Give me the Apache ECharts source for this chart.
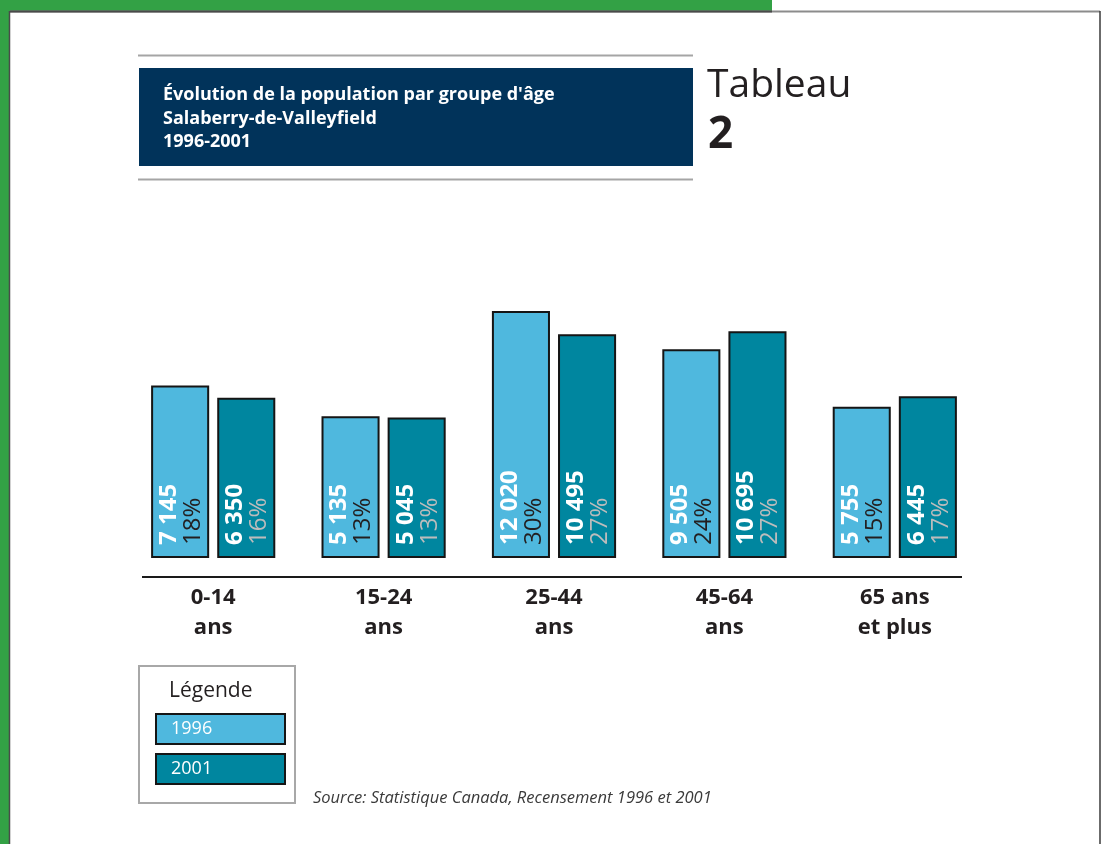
<!DOCTYPE html>
<html lang="fr">
<head>
<meta charset="utf-8">
<title>Évolution de la population par groupe d'âge – Salaberry-de-Valleyfield 1996-2001</title>
<script src="https://cdn.jsdelivr.net/npm/echarts@6/dist/echarts.min.js"></script>
<style>
  html, body { margin: 0; padding: 0; background: #ffffff; }
  #chart { width: 1101px; height: 844px; }
</style>
</head>
<body>
<div id="chart"></div>
<script>
// Groupes d'âge (axe des catégories)
const categories = ['0-14\nans', '15-24\nans', '25-44\nans', '45-64\nans', '65 ans\net plus'];
// Années du recensement
const years = ['1996', '2001'];
// Population par groupe d'âge
const pop1996 = [7145, 5135, 12020, 9505, 5755];
const pop2001 = [6350, 5045, 10495, 10695, 6445];
// Part de la population totale (%)
const pct1996 = [18, 13, 30, 24, 15];
const pct2001 = [16, 13, 27, 27, 17];

const FONT = '"Open Sans", "Noto Sans", sans-serif';
const INK = '#231f20';
const barColors = ['#4fb8de', '#00869f'];
const pctColors = [INK, '#bcbcbc'];

function fmt(n) {
  return String(n).replace(/\B(?=(\d{3})+(?!\d))/g, ' ');
}

function makeData(values, pcts) {
  return values.map((v, i) => [i, v, pcts[i]]);
}

// Barres dessinées depuis le bas de la grille jusqu'à la valeur, avec
// l'effectif et le pourcentage écrits verticalement à l'intérieur.
function renderBar(params, api) {
  const s = params.seriesIndex;
  const i = api.value(0);
  const v = api.value(1);
  const p = api.value(2);
  const cs = params.coordSys;
  const base = cs.y + cs.height;
  const top = api.coord([i, v]);
  const band = api.size([1, 0])[0];
  const w = band * 0.329;
  const gap = band * 0.059;
  const cx = top[0] + (s === 0 ? -1 : 1) * (w + gap) / 2;
  return {
    type: 'group',
    children: [
      {
        type: 'rect',
        shape: { x: cx - w / 2, y: top[1], width: w, height: base - top[1] },
        style: { fill: barColors[s], stroke: '#151515', lineWidth: 2 }
      },
      {
        type: 'text',
        x: cx + 1,
        y: base - 12,
        rotation: Math.PI / 2,
        style: {
          text: '{v|' + fmt(v) + '}\n{p|' + p + '%}',
          align: 'left',
          verticalAlign: 'middle',
          rich: {
            v: { fontFamily: FONT, fontWeight: 'bold', fontSize: 24, lineHeight: 24, fill: '#ffffff' },
            p: { fontFamily: FONT, fontWeight: 'normal', fontSize: 24, lineHeight: 24, fill: pctColors[s] }
          }
        }
      }
    ]
  };
}

const chart = echarts.init(document.getElementById('chart'), null, { renderer: 'canvas' });

chart.setOption({
  backgroundColor: '#ffffff',
  animation: false,
  title: [
    {
      text: "Évolution de la population par groupe d'âge\nSalaberry-de-Valleyfield\n1996-2001",
      left: 163, top: 83.5, padding: 0,
      textStyle: { color: '#ffffff', fontFamily: FONT, fontSize: 18, fontWeight: 'bold', lineHeight: 23.5 }
    },
    {
      text: 'Tableau',
      left: 707, top: 65, padding: 0,
      textStyle: { color: INK, fontFamily: FONT, fontSize: 39, fontWeight: 'normal', lineHeight: 42 }
    },
    {
      text: '2',
      left: 708, top: 113, padding: 0,
      textStyle: { color: INK, fontFamily: FONT, fontSize: 44, fontWeight: 'bold', lineHeight: 44 }
    },
    {
      text: 'Source: Statistique Canada, Recensement 1996 et 2001',
      left: 313, top: 789, padding: 0,
      textStyle: { color: '#3a3a3a', fontFamily: FONT, fontSize: 16.5, fontStyle: 'italic', fontWeight: 'normal', lineHeight: 18 }
    }
  ],
  legend: {
    orient: 'vertical',
    left: 139, top: 666,
    padding: [47, 9, 18, 13],
    itemGap: 8,
    itemWidth: 0, itemHeight: 0,
    borderColor: '#a8a8a8', borderWidth: 2,
    selectedMode: false,
    textStyle: {
      color: '#ffffff', fontFamily: FONT, fontSize: 18,
      borderColor: '#151515', borderWidth: 2,
      width: 113, height: 28, lineHeight: 28,
      padding: [0, 0, 0, 14]
    },
    data: years.map((y, k) => ({ name: y, textStyle: { backgroundColor: barColors[k] } }))
  },
  grid: { left: 128, right: 121, top: 251, bottom: 287 },
  xAxis: {
    type: 'category',
    data: categories,
    offset: 20,
    axisLine: { show: false },
    axisTick: { show: false },
    axisLabel: { margin: 6, color: INK, fontFamily: FONT, fontSize: 22, fontWeight: 'bold', lineHeight: 30 }
  },
  yAxis: {
    type: 'value',
    min: -4000, max: 16000,
    show: false,
    splitLine: { show: false }
  },
  series: [
    {
      name: years[0], type: 'custom', renderItem: renderBar,
      itemStyle: { color: barColors[0] },
      encode: { x: 0, y: 1 },
      data: makeData(pop1996, pct1996)
    },
    {
      name: years[1], type: 'custom', renderItem: renderBar,
      itemStyle: { color: barColors[1] },
      encode: { x: 0, y: 1 },
      data: makeData(pop2001, pct2001)
    }
  ],
  graphic: [
    // cadre de la page
    { type: 'rect', silent: true, shape: { x: 0, y: 0, width: 10, height: 844 }, style: { fill: '#33a145' } },
    { type: 'rect', silent: true, shape: { x: 0, y: 0, width: 772, height: 11 }, style: { fill: '#33a145' } },
    { type: 'line', silent: true, shape: { x1: 10, y1: 11.5, x2: 1100, y2: 11.5 }, style: { stroke: '#8c8c8c', lineWidth: 2 } },
    { type: 'line', silent: true, shape: { x1: 10, y1: 11.5, x2: 772, y2: 11.5 }, style: { stroke: '#4a4a4a', lineWidth: 2 } },
    { type: 'line', silent: true, shape: { x1: 9.5, y1: 11, x2: 9.5, y2: 844 }, style: { stroke: '#4a4a4a', lineWidth: 1.5 } },
    { type: 'line', silent: true, shape: { x1: 1100, y1: 11, x2: 1100, y2: 844 }, style: { stroke: '#3a3a3a', lineWidth: 1.5 } },
    // bandeau du titre
    { type: 'line', silent: true, shape: { x1: 138, y1: 55.5, x2: 693, y2: 55.5 }, style: { stroke: '#a5a5a5', lineWidth: 2 } },
    { type: 'rect', silent: true, z: -1, shape: { x: 139, y: 68, width: 554, height: 98 }, style: { fill: '#01335a' } },
    { type: 'line', silent: true, shape: { x1: 138, y1: 179.5, x2: 693, y2: 179.5 }, style: { stroke: '#a5a5a5', lineWidth: 2 } },
    // ligne de base de l'axe des catégories
    { type: 'line', silent: true, shape: { x1: 142, y1: 577, x2: 962, y2: 577 }, style: { stroke: '#1a1a1a', lineWidth: 2 } },
    // titre de la légende
    { type: 'text', silent: true, x: 169, y: 691, style: { text: 'Légende', fontFamily: FONT, fontSize: 21, fill: INK, align: 'left', verticalAlign: 'middle' } }
  ]
});
</script>
</body>
</html>
